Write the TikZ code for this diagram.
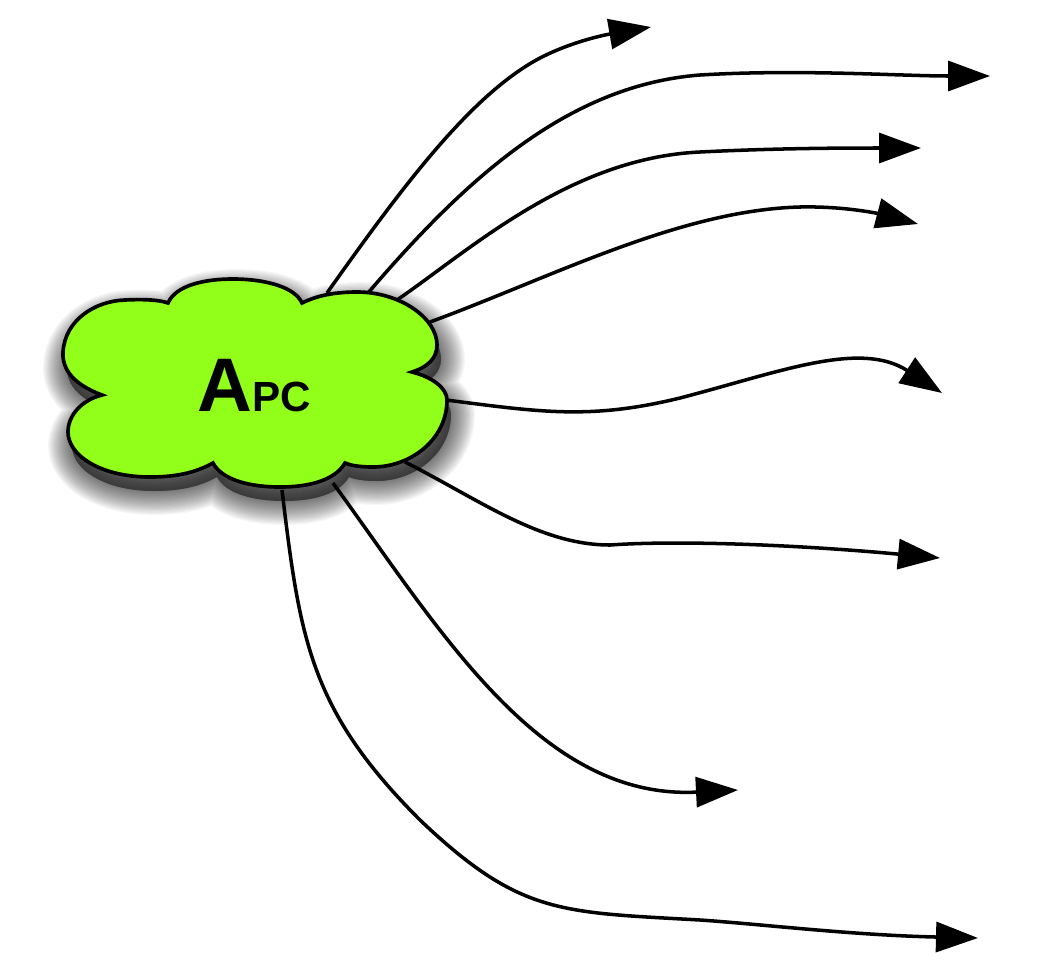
\documentclass[tikz,border=0pt]{standalone}
\usepackage{fontspec}
\setmainfont{Liberation Sans}
\usetikzlibrary{arrows.meta}

\definecolor{apcgreen}{RGB}{146,255,26}

\newcommand{\apcoutline}{(102,395)
  .. controls (72,384) and (62,368) .. (63,352)
  .. controls (65,320) and (95,301) .. (125,300)
  .. controls (145,299) and (160,300) .. (168,303)
  .. controls (176,285) and (205,279) .. (233,279)
  .. controls (265,279) and (295,287) .. (302,303)
  .. controls (320,294) and (340,292) .. (357,292)
  .. controls (400,292) and (437,318) .. (437,345)
  .. controls (437,358) and (428,367) .. (412,372)
  .. controls (432,377) and (447,388) .. (447,400)
  .. controls (447,440) and (410,467) .. (373,467)
  .. controls (362,467) and (352,466) .. (345,463)
  .. controls (335,480) and (310,487) .. (280,487)
  .. controls (250,487) and (222,480) .. (213,463)
  .. controls (195,473) and (175,477) .. (150,477)
  .. controls (100,477) and (68,455) .. (68,432)
  .. controls (68,415) and (82,400) .. (102,395) -- cycle}

\begin{document}
\begin{tikzpicture}[x=0.025cm, y=-0.025cm,
  flow/.style={black, line width=2.5pt, -{Triangle[length=1.05cm, width=0.75cm]}}]
\useasboundingbox (0,0) rectangle (1045,962);

% start points on the cloud, arrow tips
\coordinate (s1) at (327,293);
\coordinate (s2) at (368,293);
\coordinate (s3) at (397,300);
\coordinate (s4) at (430,322);
\coordinate (s5) at (446,400);
\coordinate (s6) at (405,462);
\coordinate (s7) at (333,483);
\coordinate (s8) at (282,490);

\coordinate (e1) at (651,27);
\coordinate (e2) at (990,76);
\coordinate (e3) at (921,148);
\coordinate (e4) at (918,224);
\coordinate (e5) at (942,393);
\coordinate (e6) at (940,558);
\coordinate (e7) at (738,790);
\coordinate (e8) at (978,938);

% blurred shadow
\begin{scope}[shift={(4,14)}]
\foreach \w in {1.2,1.14,...,0.0}
  \path[fill=black, draw=black, line width=\w cm, opacity=0.035, line join=round] \apcoutline;
\end{scope}

\draw[flow] (s1) .. controls (400,190) and (470,95) .. (540,58)
  .. controls (575,40) and (610,34) .. (e1);
\draw[flow] (s2) .. controls (468,176) and (570,85) .. (700,75)
  .. controls (800,69) and (900,76) .. (e2);
\draw[flow] (s3) .. controls (470,250) and (570,158) .. (700,152)
  .. controls (780,148) and (850,148) .. (e3);
\draw[flow] (s4) .. controls (550,278) and (680,210) .. (800,207)
  .. controls (845,206) and (880,214) .. (e4);
\draw[flow] (s5) .. controls (540,412) and (590,420) .. (680,398)
  .. controls (780,372) and (860,340) .. (e5);
\draw[flow] (s6) .. controls (480,500) and (540,545) .. (610,545)
  .. controls (680,540) and (800,545) .. (e6);
\draw[flow] (s7) .. controls (440,630) and (540,800) .. (e7);
\draw[flow] (s8) .. controls (300,640) and (310,710) .. (420,820)
  .. controls (520,915) and (560,912) .. (700,920)
  .. controls (760,924) and (850,935) .. (e8);

\path[fill=apcgreen, draw=black, line width=2.6pt] \apcoutline;

\node[font=\bfseries\fontsize{54}{54}\selectfont, inner sep=0pt] (apc) at (254,386)
  {A{\fontsize{30}{30}\selectfont PC}};
\end{tikzpicture}
\end{document}
